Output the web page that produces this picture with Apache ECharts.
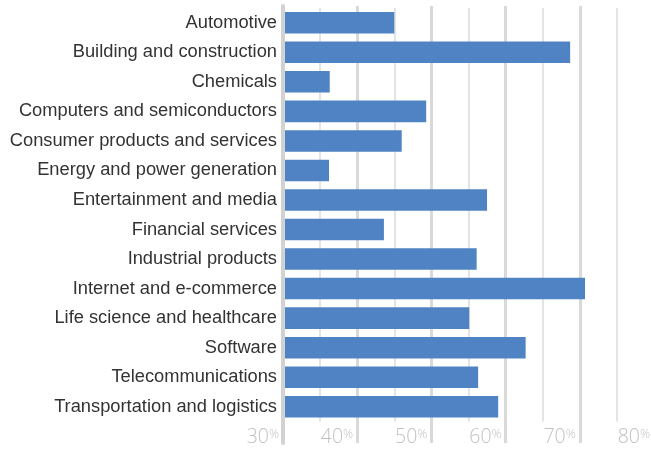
<!DOCTYPE html>
<html>
<head>
<meta charset="utf-8">
<script src="https://cdn.jsdelivr.net/npm/echarts@6/dist/echarts.min.js"></script>
<style>
  html, body { margin: 0; padding: 0; background: #ffffff; }
  #chart { width: 651px; height: 449px; }
</style>
</head>
<body>
<div id="chart"></div>
<script>
// Industry sectors, listed top to bottom
const categories = [
  'Automotive',
  'Building and construction',
  'Chemicals',
  'Computers and semiconductors',
  'Consumer products and services',
  'Energy and power generation',
  'Entertainment and media',
  'Financial services',
  'Industrial products',
  'Internet and e-commerce',
  'Life science and healthcare',
  'Software',
  'Telecommunications',
  'Transportation and logistics'
];

// Share per sector, in percent
const shares = [45.0, 68.7, 36.3, 49.3, 46.0, 36.2, 57.5, 43.6, 56.1, 70.7, 55.1, 62.7, 56.3, 59.0];

// Percent axis range and step
const axisMin = 30;
const axisMax = 80;
const axisStep = 10;

const chart = echarts.init(document.getElementById('chart'), null, { renderer: 'canvas' });

// the plot runs slightly past the right edge, so 80% sits just outside
const plotLeft = 283;
const plotWidth = 371;

const tickFont = "'Open Sans', 'Liberation Sans', sans-serif";

chart.setOption({
  animation: false,
  backgroundColor: '#ffffff',
  grid: [
    // bars
    { left: plotLeft, width: plotWidth, top: 8, bottom: 27.5, containLabel: false, outerBoundsMode: 'none' },
    // tall major gridlines and the base line at the axis minimum
    { left: plotLeft, width: plotWidth, top: 6, bottom: 6, containLabel: false, outerBoundsMode: 'none' }
  ],
  xAxis: [
    {
      type: 'value',
      gridIndex: 0,
      min: axisMin,
      max: axisMax,
      interval: axisStep,
      axisLine: { show: false },
      axisTick: { show: false },
      splitLine: { show: false },
      minorTick: { show: false, splitNumber: 2 },
      minorSplitLine: { show: true, lineStyle: { color: '#e4e4e4', width: 2 } },
      axisLabel: {
        show: true,
        margin: 6,
        align: 'right',
        hideOverlap: false,
        formatter: function (v) { return '{n|' + v + '}{p|%}'; },
        rich: {
          n: { fontFamily: tickFont, fontSize: 19.5, fontWeight: 300, color: '#c2c2c2', lineHeight: 20, verticalAlign: 'bottom' },
          p: { fontFamily: tickFont, fontSize: 12.5, fontWeight: 300, color: '#c2c2c2', lineHeight: 12, verticalAlign: 'bottom', padding: [0, 4, 7, 0] }
        }
      }
    },
    {
      type: 'value',
      gridIndex: 1,
      min: axisMin,
      max: axisMax,
      interval: axisStep,
      axisLine: { show: false },
      axisTick: { show: false },
      axisLabel: { show: false },
      splitLine: { show: true, lineStyle: { color: '#d9d9d9', width: 3 } }
    }
  ],
  yAxis: [
    {
      type: 'category',
      gridIndex: 0,
      data: categories,
      inverse: true,
      axisLine: { show: false },
      axisTick: { show: false },
      splitLine: { show: false },
      axisLabel: {
        margin: 6,
        fontFamily: 'Liberation Sans',
        fontSize: 18.3,
        color: '#333333'
      }
    },
    {
      type: 'value',
      gridIndex: 1,
      z: 5,
      axisLine: { show: true, lineStyle: { color: '#d2d2d2', width: 4 } },
      axisTick: { show: false },
      axisLabel: { show: false },
      splitLine: { show: false }
    }
  ],
  series: [
    {
      type: 'bar',
      xAxisIndex: 0,
      yAxisIndex: 0,
      data: shares,
      barCategoryGap: '27%',
      itemStyle: { color: '#4f83c3' },
      silent: true
    }
  ]
});
</script>
</body>
</html>
